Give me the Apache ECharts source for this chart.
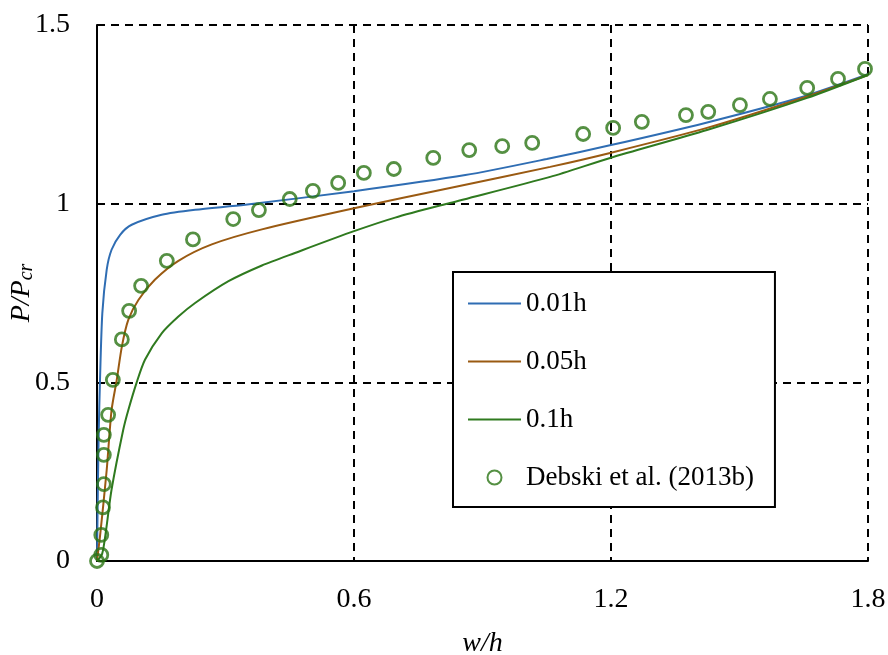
<!DOCTYPE html>
<html>
<head>
<meta charset="utf-8">
<script src="https://cdn.jsdelivr.net/npm/echarts@6/dist/echarts.min.js"></script>
<style>
  html, body { margin: 0; padding: 0; background: #fff; }
  #main { width: 888px; height: 655px; }
</style>
</head>
<body>
<div id="main"></div>
<script>
// 0.01h imperfection
const w01 = [0, 0.002, 0.004, 0.007, 0.0124, 0.0226, 0.034, 0.054, 0.081, 0.151, 0.229, 0.346, 0.6, 0.86, 1.05, 1.2, 1.42, 1.65, 1.8];
const p01 = [0, 0.2, 0.36, 0.506, 0.693, 0.815, 0.871, 0.913, 0.941, 0.969, 0.983, 0.997, 1.035, 1.08, 1.125, 1.164, 1.226, 1.30, 1.362];
// 0.05h
const w05 = [0, 0.008, 0.0226, 0.034, 0.046, 0.058, 0.073, 0.097, 0.135, 0.19, 0.268, 0.385, 0.6, 0.824, 1.058, 1.198, 1.424, 1.658, 1.8];
const p05 = [0, 0.08, 0.254, 0.422, 0.506, 0.6, 0.675, 0.731, 0.787, 0.84, 0.886, 0.928, 0.987, 1.044, 1.103, 1.142, 1.212, 1.30, 1.36];
// 0.1h
const w1 = [0, 0.012, 0.021, 0.034, 0.061, 0.073, 0.0927, 0.112, 0.151, 0.19, 0.229, 0.307, 0.385, 0.462, 0.6, 0.696, 0.824, 1.058, 1.198, 1.424, 1.658, 1.8];
const p1 = [0, 0.02, 0.085, 0.2, 0.366, 0.422, 0.5, 0.563, 0.637, 0.684, 0.722, 0.783, 0.827, 0.862, 0.923, 0.961, 1.002, 1.075, 1.128, 1.206, 1.296, 1.36];
// Debski et al. (2013b)
const expW = [0, 0.01, 0.01, 0.014, 0.016, 0.016, 0.016, 0.026, 0.037, 0.058, 0.075, 0.103, 0.163, 0.224, 0.318, 0.378, 0.45, 0.504, 0.563, 0.623, 0.693, 0.785, 0.869, 0.946, 1.016, 1.135, 1.205, 1.272, 1.375, 1.427, 1.501, 1.571, 1.658, 1.73, 1.793];
const expP = [0, 0.017, 0.073, 0.15, 0.215, 0.297, 0.353, 0.409, 0.507, 0.62, 0.70, 0.77, 0.84, 0.90, 0.957, 0.982, 1.013, 1.036, 1.058, 1.086, 1.097, 1.128, 1.150, 1.161, 1.170, 1.195, 1.212, 1.229, 1.248, 1.257, 1.276, 1.293, 1.324, 1.349, 1.377];

const names = ['0.01h', '0.05h', '0.1h', 'Debski et al. (2013b)'];
const colors = ['#2f6db3', '#9a5a12', '#2f7a1f', '#2a7414'];

const zip = (xs, ys) => xs.map((x, i) => [x, ys[i]]);
const font = 'Liberation Serif';

const chart = echarts.init(document.getElementById('main'));

const lineSeries = (name, data, color) => ({
  name,
  type: 'line',
  data,
  smooth: 0.25,
  symbol: 'none',
  lineStyle: { color, width: 2 },
  itemStyle: { color },
  z: 3,
});

chart.setOption({
  animation: false,
  grid: { left: 97, right: 20, top: 25, bottom: 94, outerBoundsMode: 'none' },
  legend: {
    orient: 'vertical',
    left: 453,
    top: 272,
    itemWidth: 53,
    itemHeight: 14,
    itemGap: 31,
    padding: [18, 21, 16, 14],
    borderColor: '#000',
    borderWidth: 2,
    backgroundColor: '#fff',
    textStyle: { fontFamily: font, fontSize: 27, color: '#000' },
    data: [
      { name: names[0], itemStyle: { opacity: 0 } },
      { name: names[1], itemStyle: { opacity: 0 } },
      { name: names[2], itemStyle: { opacity: 0 } },
      { name: names[3] },
    ],
  },
  xAxis: {
    type: 'value',
    min: 0,
    max: 1.8,
    interval: 0.6,
    name: 'w/h',
    nameLocation: 'middle',
    nameGap: 69,
    nameMoveOverlap: false,
    nameTextStyle: { fontFamily: font, fontSize: 28, fontStyle: 'italic', color: '#000' },
    axisLine: { lineStyle: { color: '#000', width: 2 } },
    axisTick: { show: false },
    axisLabel: { fontFamily: font, fontSize: 28, color: '#000', margin: 25 },
    splitLine: { lineStyle: { color: '#000', width: 2, type: [8, 6] } },
  },
  yAxis: {
    type: 'value',
    min: 0,
    max: 1.5,
    interval: 0.5,
    name: '{a|P/P}{b|cr}',
    nameLocation: 'middle',
    nameGap: 60,
    nameMoveOverlap: false,
    nameRotate: 90,
    nameTextStyle: {
      rich: {
        a: { fontFamily: font, fontSize: 28, fontStyle: 'italic', color: '#000' },
        b: { fontFamily: font, fontSize: 20, fontStyle: 'italic', color: '#000', padding: [10, 0, 0, 0] },
      },
    },
    axisLine: { lineStyle: { color: '#000', width: 2 } },
    axisTick: { show: false },
    axisLabel: { fontFamily: font, fontSize: 28, color: '#000', margin: 27 },
    splitLine: { lineStyle: { color: '#000', width: 2, type: [8, 6] } },
  },
  series: [
    lineSeries(names[0], zip(w01, p01), colors[0]),
    lineSeries(names[1], zip(w05, p05), colors[1]),
    lineSeries(names[2], zip(w1, p1), colors[2]),
    {
      name: names[3],
      type: 'scatter',
      data: zip(expW, expP),
      symbol: 'circle',
      symbolSize: 13,
      itemStyle: { color: 'rgba(255,255,255,0)', borderColor: colors[3], borderWidth: 2.8 },
      z: 4,
    },
  ],
});
</script>
</body>
</html>
